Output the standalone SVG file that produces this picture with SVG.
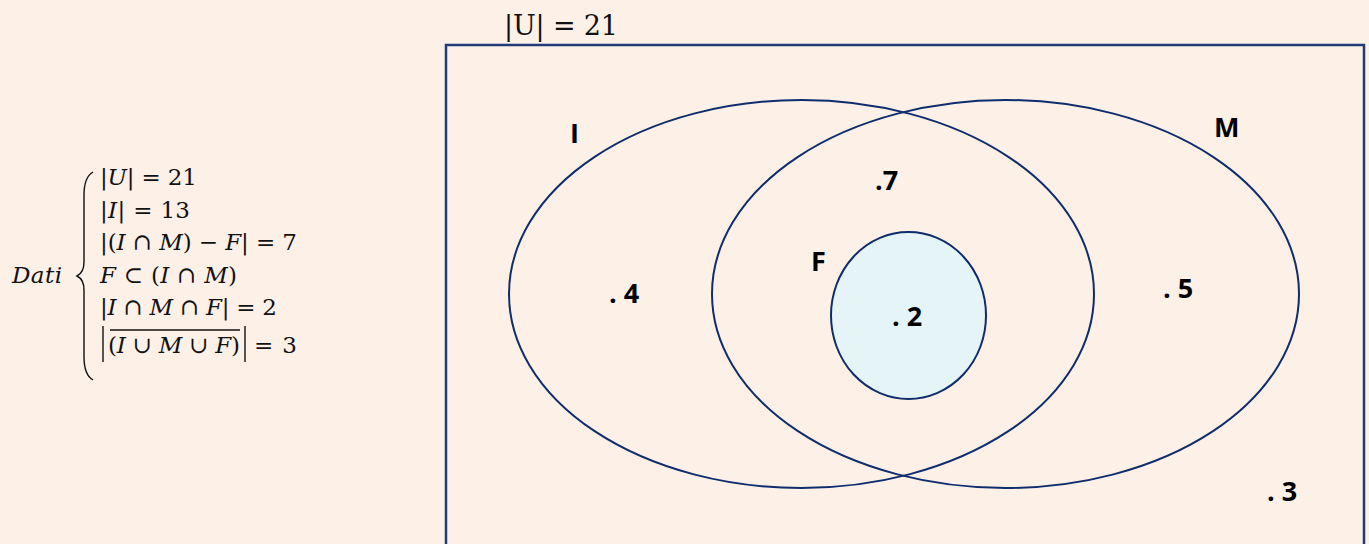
<svg xmlns="http://www.w3.org/2000/svg" width="1369" height="544" viewBox="0 0 1369 544">
<style>
.bg{fill:#fdf0e7}
.set{fill:none;stroke:#0f2c6c;stroke-width:2}
.lbl{font-family:"Open Sans","Liberation Sans",sans-serif;font-weight:700;font-size:27px;fill:#000}
.math{font-family:"DejaVu Serif","Liberation Serif",serif;font-size:23px;fill:#111}
.it{font-style:italic}
.delim{stroke:#111;stroke-width:1.4;fill:none}
</style>
<rect class="bg" x="0" y="0" width="1369" height="544"/>

<g id="data">
  <text class="math it" x="12" y="283" font-size="26" textLength="50">Dati</text>
  <path class="delim" d="M93,172 C86,176 84,184 84,195 L84,262 C84,270 81,274 77,276 C81,278 84,282 84,290 L84,357 C84,368 86,376 93,380"/>
  <text class="math" x="100" y="185" textLength="97">|<tspan class="it">U</tspan>| = 21</text>
  <text class="math" x="100" y="218" textLength="90">|<tspan class="it">I</tspan>| = 13</text>
  <text class="math" x="100" y="250" textLength="197">|(<tspan class="it">I</tspan> ∩ <tspan class="it">M</tspan>) − <tspan class="it">F</tspan>| = 7</text>
  <text class="math" x="100" y="283" textLength="137"><tspan class="it">F</tspan> ⊂ (<tspan class="it">I</tspan> ∩ <tspan class="it">M</tspan>)</text>
  <text class="math" x="100" y="315" textLength="177">|<tspan class="it">I</tspan> ∩ <tspan class="it">M</tspan> ∩ <tspan class="it">F</tspan>| = 2</text>
  <line class="delim" x1="103" y1="326" x2="103" y2="362"/>
  <line class="delim" x1="110" y1="330" x2="240" y2="330" stroke-width="1"/>
  <text class="math" x="108" y="353" textLength="132">(<tspan class="it">I</tspan> ∪ <tspan class="it">M</tspan> ∪ <tspan class="it">F</tspan>)</text>
  <line class="delim" x1="245" y1="326" x2="245" y2="362"/>
  <text class="math" x="254" y="353" textLength="43">= 3</text>
</g>

<g id="universe">
  <rect x="446" y="45" width="918" height="520" fill="none" stroke="#1f3b7a" stroke-width="2.5"/>
  <text x="504" y="35" font-family="DejaVu Serif, Liberation Serif, serif" font-size="27" fill="#111" textLength="114">|U| = 21</text>
  <text class="lbl" x="1267" y="501">. 3</text>
</g>

<g id="set-I">
  <ellipse class="set" cx="801.5" cy="294" rx="292.5" ry="194"/>
  <text class="lbl" x="570" y="143">I</text>
  <text class="lbl" x="609" y="303">. 4</text>
</g>

<g id="set-M">
  <ellipse class="set" cx="1005.5" cy="294" rx="293.5" ry="194"/>
  <text class="lbl" x="1214" y="137">M</text>
  <text class="lbl" x="1163" y="298">. 5</text>
  <text class="lbl" x="875" y="190">.7</text>
</g>

<g id="set-F">
  <ellipse cx="908.5" cy="315.5" rx="77.5" ry="83.5" fill="#e4f4f7" stroke="#0f2c6c" stroke-width="2"/>
  <text class="lbl" x="811" y="271">F</text>
  <text class="lbl" x="892" y="326">. 2</text>
</g>

<g id="connectors"/>
</svg>
